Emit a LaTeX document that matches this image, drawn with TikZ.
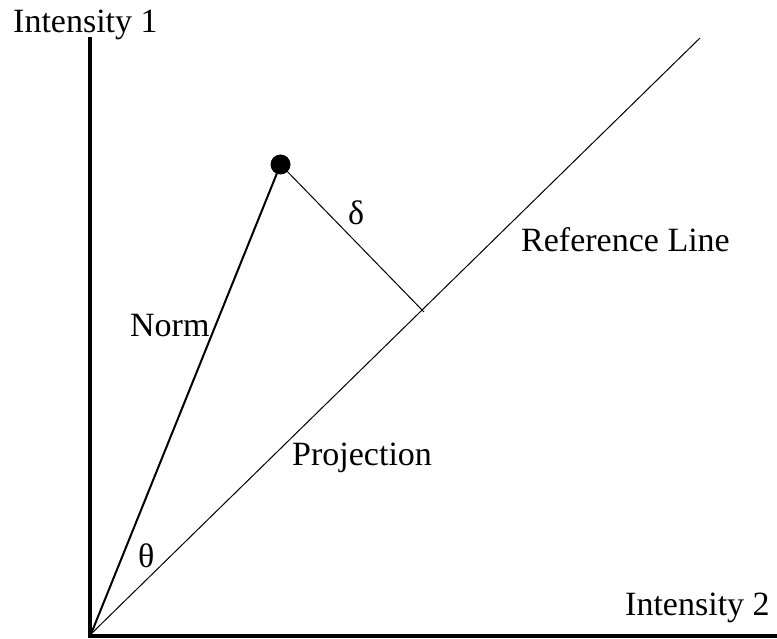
\documentclass[tikz,border=0pt]{standalone}
\usepackage{fontspec}
\setmainfont{Liberation Serif}
\begin{document}
\begin{tikzpicture}[x=1pt,y=-1pt,
  lbl/.style={inner sep=0pt,anchor=base west,font=\fontsize{34}{40}\selectfont},
  axis/.style={line width=4pt},
  thin line/.style={line width=1pt}]
\useasboundingbox (0,0) rectangle (777,639);
\coordinate (O) at (90,636);
\coordinate (Ytop) at (90,37);
\coordinate (Xend) at (777,636);
\coordinate (Rorig) at (91,634);
\coordinate (Rend) at (700,38);
\node[circle,fill=black,inner sep=0pt,minimum size=20pt] (P) at (280.5,164.5) {};
\coordinate (F) at (424,312);
\draw[axis] (Ytop) -- (O.center) -- (Xend);
\draw[thin line] (Rorig) -- (Rend);
\draw[line width=2pt] (Rorig) -- (P.center);
\draw[thin line] (P.center) -- (F);
\node[lbl] (i1) at (13,33) {Intensity 1};
\node[lbl] (i2) at (625,615) {Intensity 2};
\node[lbl] (d) at (348,225) {δ};
\node[lbl] (rl) at (521,252) {Reference Line};
\node[lbl] (nm) at (130,337) {Norm};
\node[lbl] (pj) at (292,465) {Projection};
\node[lbl] (th) at (138,567) {θ};
\end{tikzpicture}
\end{document}
